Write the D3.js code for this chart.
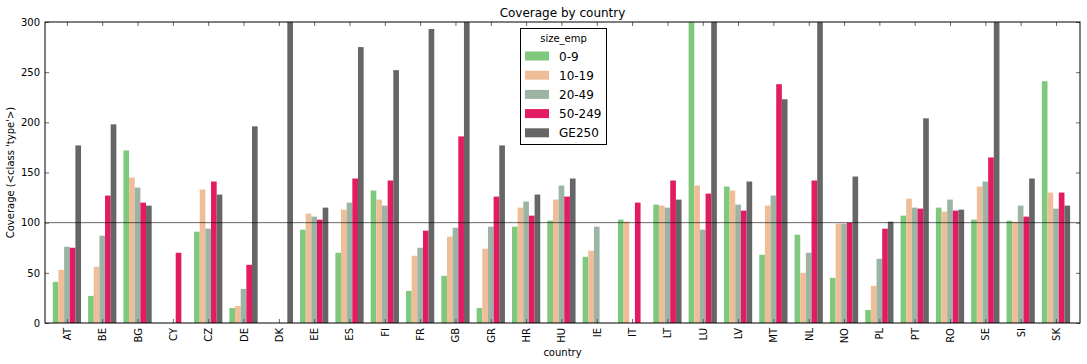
<!DOCTYPE html>
<html>
<head>
<meta charset="utf-8">
<script src="https://cdn.jsdelivr.net/npm/d3@7"></script>
<style>
  body { margin: 0; background: #fff; }
  svg { font-family: "DejaVu Sans", sans-serif; }
</style>
</head>
<body>
<svg id="chart" width="1087" height="364"></svg>
<script>
// countries on the x axis
var countries = ["AT","BE","BG","CY","CZ","DE","DK","EE","ES","FI","FR","GB","GR","HR","HU",
  "IE","IT","LT","LU","LV","MT","NL","NO","PL","PT","RO","SE","SI","SK"];
var sizeClasses = ["0-9","10-19","20-49","50-249","GE250"];

// coverage per size class (null = no bar); values above 300 are cut off in the original
var cov_0_9    = [41, 27, 172, null, 91, 15, null, 93, 70, 132, 32, 47, 15, 96, 102,
  66, 103, 118, 320, 136, 68, 88, 45, 13, 107, 115, 103, 102, 241];
var cov_10_19  = [53, 56, 145, null, 133, 17, null, 109, 113, 123, 67, 86, 74, 115, 123,
  72, 101, 117, 137, 132, 117, 50, 99, 37, 124, 111, 136, 101, 130];
var cov_20_49  = [76, 87, 135, null, 94, 34, null, 106, 120, 117, 75, 95, 96, 121, 137,
  96, null, 115, 93, 118, 127, 70, 99, 64, 115, 123, 141, 117, 114];
var cov_50_249 = [75, 127, 120, 70, 141, 58, null, 103, 144, 142, 92, 186, 126, 107, 126,
  null, 120, 142, 129, 112, 238, 142, 100, 94, 114, 112, 165, 106, 130];
var cov_GE250  = [177, 198, 117, null, 128, 196, 320, 115, 275, 252, 293, 320, 177, 128, 144,
  null, null, 123, 320, 141, 223, 320, 146, 101, 204, 113, 320, 144, 117];

var series = [cov_0_9, cov_10_19, cov_20_49, cov_50_249, cov_GE250];
var colors = ["#7fc97f", "#efbe98", "#9cb4a4", "#e31b63", "#666666"];
var yTicks = [0, 50, 100, 150, 200, 250, 300];

var margin = {left: 45, right: 7, top: 22, bottom: 41};
var W = 1087, H = 364;
var svg = d3.select("#chart");

var x = d3.scaleLinear()
  .domain([-0.62, countries.length - 1 + 0.68])
  .range([margin.left, W - margin.right]);
var y = d3.scaleLinear().domain([0, 300]).range([H - margin.bottom, margin.top]);

var groupW = 0.8, barW = groupW / series.length;

svg.append("clipPath").attr("id", "plotClip")
  .append("rect")
  .attr("x", margin.left).attr("y", margin.top)
  .attr("width", W - margin.left - margin.right)
  .attr("height", H - margin.top - margin.bottom);

var plot = svg.append("g").attr("clip-path", "url(#plotClip)");

series.forEach(function(vals, s) {
  plot.selectAll(".bar" + s)
    .data(vals.map(function(v, i) { return {i: i, v: v}; }).filter(function(d) { return d.v != null; }))
    .enter().append("rect")
    .attr("x", function(d) { return x(d.i - groupW / 2 + s * barW); })
    .attr("width", x(barW) - x(0))
    .attr("y", function(d) { return y(d.v); })
    .attr("height", function(d) { return y(0) - y(d.v); })
    .attr("fill", colors[s]);
});

// reference line at 100
plot.append("line")
  .attr("x1", margin.left).attr("x2", W - margin.right)
  .attr("y1", y(100)).attr("y2", y(100))
  .attr("stroke", "#000").attr("stroke-opacity", 0.6).attr("stroke-width", 1);

// axes, ticks pointing inwards
var tickCol = "#444";
var xb = svg.append("g").attr("transform", "translate(0," + y(0) + ")")
  .call(d3.axisBottom(x).tickValues(d3.range(countries.length)).tickSize(-4).tickFormat(function(i) { return countries[i]; }));
var xt = svg.append("g").attr("transform", "translate(0," + y(300) + ")")
  .call(d3.axisTop(x).tickValues(d3.range(countries.length)).tickSize(-4).tickFormat(""));
var yl = svg.append("g").attr("transform", "translate(" + margin.left + ",0)")
  .call(d3.axisLeft(y).tickValues(yTicks).tickSize(-4).tickPadding(5));
var yr = svg.append("g").attr("transform", "translate(" + (W - margin.right) + ",0)")
  .call(d3.axisRight(y).tickValues(yTicks).tickSize(-4).tickFormat(""));

[xb, xt, yl, yr].forEach(function(g) {
  g.select(".domain").remove();
  g.selectAll(".tick line").attr("stroke", tickCol).attr("stroke-width", 0.8);
  g.selectAll("text").attr("font-family", "DejaVu Sans").attr("font-size", 10).attr("fill", "#000");
});
xb.selectAll(".tick text")
  .attr("transform", "rotate(-90)")
  .attr("text-anchor", "end")
  .attr("x", -5).attr("y", 0).attr("dy", "0.35em");

svg.append("rect")
  .attr("x", margin.left).attr("y", margin.top)
  .attr("width", W - margin.left - margin.right)
  .attr("height", H - margin.top - margin.bottom)
  .attr("fill", "none").attr("stroke", "#000").attr("stroke-width", 1);

svg.append("text").attr("x", (margin.left + W - margin.right) / 2).attr("y", 17)
  .attr("text-anchor", "middle").attr("font-size", 12).text("Coverage by country");
svg.append("text").attr("x", (margin.left + W - margin.right) / 2).attr("y", 356)
  .attr("text-anchor", "middle").attr("font-size", 10).text("country");
svg.append("text")
  .attr("transform", "translate(14," + ((margin.top + H - margin.bottom) / 2) + ") rotate(-90)")
  .attr("text-anchor", "middle").attr("font-size", 10).text("Coverage (<class 'type'>)");

// legend
var lg = svg.append("g").attr("transform", "translate(520.5,28.5)");
lg.append("rect").attr("width", 86).attr("height", 116)
  .attr("fill", "#fff").attr("stroke", "#000").attr("stroke-width", 1);
lg.append("text").attr("x", 43).attr("y", 13).attr("text-anchor", "middle")
  .attr("font-size", 10).text("size_emp");
sizeClasses.forEach(function(name, k) {
  var yy = 23 + k * 19.2;
  lg.append("rect").attr("x", 4.5).attr("y", yy).attr("width", 24).attr("height", 9).attr("fill", colors[k]);
  lg.append("text").attr("x", 38.5).attr("y", yy + 9).attr("font-size", 12).text(name);
});
</script>
</body>
</html>
